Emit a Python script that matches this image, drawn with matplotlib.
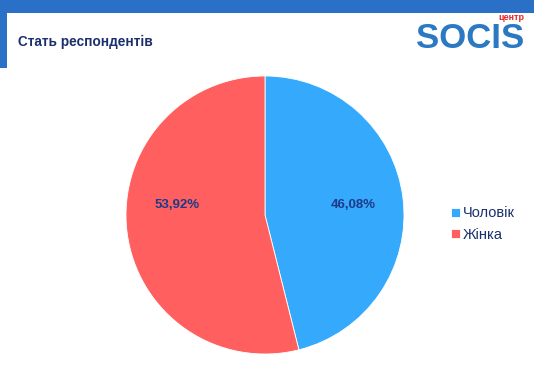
import matplotlib
matplotlib.use("Agg")
import matplotlib.pyplot as plt
from matplotlib.patches import Rectangle
import numpy as np

plt.rcParams['font.family'] = ['Liberation Sans', 'DejaVu Sans']

# data
categories = ["Чоловік", "Жінка"]
shares = [46.08, 53.92]
labels = ["46,08%", "53,92%"]
colors = ["#35AAFD", "#FF5F5E"]
title = "Стать респондентів"

W, H = 534, 379
fig = plt.figure(figsize=(W / 100, H / 100), dpi=100)

# frame decorations (pixel coords)
bg = fig.add_axes([0, 0, 1, 1])
bg.set_xlim(0, W)
bg.set_ylim(H, 0)
bg.axis("off")
bg.add_patch(Rectangle((0, 0), W, 13, color="#2A70C7", lw=0))
bg.add_patch(Rectangle((0, 0), 7, 68, color="#2A70C7", lw=0))
bg.text(18, 42, title, fontsize=9.8, fontweight="bold", color="#1B2F6E", va="center", ha="left")

# logo
bg.text(470, 38, "SOCIS", fontsize=25, fontweight="bold", color="#2B79C2",
        va="center", ha="center")
bg.text(524, 18, "центр", fontsize=6.5, fontweight="bold", color="#E3262A",
        va="center", ha="right")

# pie
R = 139
ax = fig.add_axes([(265 - R) / W, 1 - (215 + R) / H, 2 * R / W, 2 * R / H])
wedges, _ = ax.pie(shares, colors=colors, startangle=90, counterclock=False,
                   wedgeprops=dict(linewidth=0.6, edgecolor="white"))
ax.set_xlim(-1, 1)
ax.set_ylim(-1, 1)
ax.set_aspect("equal")
for w, lab in zip(wedges, labels):
    ang = np.deg2rad((w.theta1 + w.theta2) / 2)
    ax.text(0.64 * np.cos(ang), 0.07, lab, ha="center", va="center",
            fontsize=9.5, fontweight="bold", color="#1D3A8A")

# legend
leg = fig.legend(wedges, categories, loc="center left",
                 bbox_to_anchor=(438 / W, 1 - 224 / H), frameon=False,
                 handlelength=0.6, handleheight=0.6, handletextpad=0.2,
                 labelspacing=0.5, fontsize=10.5, labelcolor="#1B2F6E")

fig.savefig("out.png", dpi=100)
